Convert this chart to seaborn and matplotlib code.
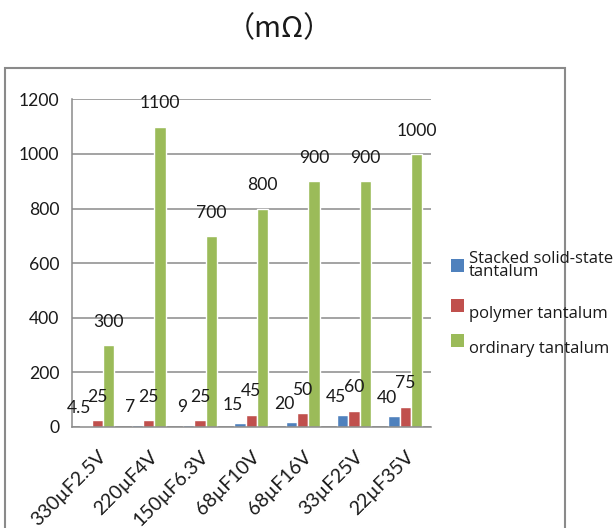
import matplotlib
matplotlib.use("Agg")
import matplotlib.pyplot as plt
import matplotlib.transforms as mtransforms
from matplotlib.patches import Rectangle, Patch
import pandas as pd
import seaborn as sns

# ESR of tantalum capacitors by rating (mΩ)
categories = ["330µF2.5V", "220µF4V", "150µF6.3V", "68µF10V", "68µF16V", "33µF25V", "22µF35V"]
series_names = ["Stacked solid-state\ntantalum", "polymer tantalum", "ordinary tantalum"]
stacked_vals = [4.5, 7, 9, 15, 20, 45, 40]
polymer_vals = [25, 25, 25, 45, 50, 60, 75]
ordinary_vals = [300, 1100, 700, 800, 900, 900, 1000]
label_texts = [
    ["4.5", "7", "9", "15", "20", "45", "40"],
    ["25", "25", "25", "45", "50", "60", "75"],
    ["300", "1100", "700", "800", "900", "900", "1000"],
]
y_ticks = [0, 200, 400, 600, 800, 1000, 1200]
title_text = "（mΩ）"

colors = ["#4F81BD", "#C0504D", "#9BBB59"]
grid_gray = "#8a8a8a"
text_color = "#1a1a1a"

rows = []
for name, vals in zip(series_names, [stacked_vals, polymer_vals, ordinary_vals]):
    for cat, v in zip(categories, vals):
        rows.append({"rating": cat, "series": name, "esr": v})
df = pd.DataFrame(rows)

sns.set_style("white")
plt.rcParams["font.family"] = ["Lato", "DejaVu Sans"]

fig = plt.figure(figsize=(6.15, 5.28), dpi=100)
ax = fig.add_axes([0.1166, 0.1913, 0.5842, 0.6206])

sns.barplot(data=df, x="rating", y="esr", hue="series", order=categories,
            hue_order=series_names, palette=colors, width=0.66, saturation=1,
            dodge=True, ax=ax, legend=False, errorbar=None)

ax.set_ylim(0, 1200)
ax.set_xlim(-0.5, len(categories) - 0.5)
ax.set_yticks(y_ticks)
ax.set_yticklabels([str(t) for t in y_ticks], fontsize=12.6, color=text_color)
ax.set_xticks(range(len(categories)))
ax.set_xticklabels(categories, rotation=45, ha="right", rotation_mode="anchor",
                   fontsize=14, color=text_color)
shift = mtransforms.ScaledTranslation(6 / 100, 0, fig.dpi_scale_trans)
for lbl in ax.get_xticklabels():
    lbl.set_transform(lbl.get_transform() + shift)
ax.set_xticks([i - 0.5 for i in range(len(categories) + 1)], minor=True)
ax.tick_params(axis="x", which="major", length=0, pad=15)
ax.tick_params(axis="x", which="minor", length=6, width=1.1, color=grid_gray, direction="out")
ax.tick_params(axis="y", length=6, width=1.1, color=grid_gray, direction="out", pad=3)
ax.set_xlabel("")
ax.set_ylabel("")

ax.yaxis.grid(True, color=grid_gray, linewidth=1.1)
ax.set_axisbelow(True)
for side in ["top", "right"]:
    ax.spines[side].set_visible(False)
for side in ["left", "bottom"]:
    ax.spines[side].set_color(grid_gray)
    ax.spines[side].set_linewidth(1.1)

# value labels above each bar
offsets = [(-5, 7), (0, 11), (0, 11)]
for container, texts, (dx, dy) in zip(ax.containers, label_texts, offsets):
    for bar, txt in zip(container, texts):
        ax.annotate(txt, (bar.get_x() + bar.get_width() / 2, bar.get_height()),
                    xytext=(dx, dy), textcoords="offset points",
                    ha="center", va="bottom", fontsize=12.6, color=text_color)

# unit caption
fig.text(0.455, 0.944, title_text, ha="center", va="center", fontsize=21,
         family=["Noto Sans CJK SC", "DejaVu Sans"], color=text_color)

# chart frame
fig.patches.append(Rectangle((5 / 615, -0.1), 560 / 615, 1.1 - 68 / 528,
                             transform=fig.transFigure, fill=False,
                             edgecolor=grid_gray, linewidth=1.5, clip_on=False))

handles = [Patch(facecolor=c, edgecolor="none") for c in colors]
leg = fig.legend(handles, series_names, loc="upper left",
                 bbox_to_anchor=(0.722, 0.537), frameon=False,
                 prop={"family": "Open Sans", "size": 12},
                 handlelength=0.8, handleheight=0.8, handletextpad=0.3,
                 labelspacing=1.15, borderaxespad=0)
# single-line entries sit a little below their swatches
text_drop = [0, -7, -7]
for t, d in zip(leg.get_texts(), text_drop):
    t.set_linespacing(0.72)
    t.set_color(text_color)
    if d:
        t.set_transform(t.get_transform()
                        + mtransforms.ScaledTranslation(0, d / 100, fig.dpi_scale_trans))

fig.savefig("out.png", dpi=100)
